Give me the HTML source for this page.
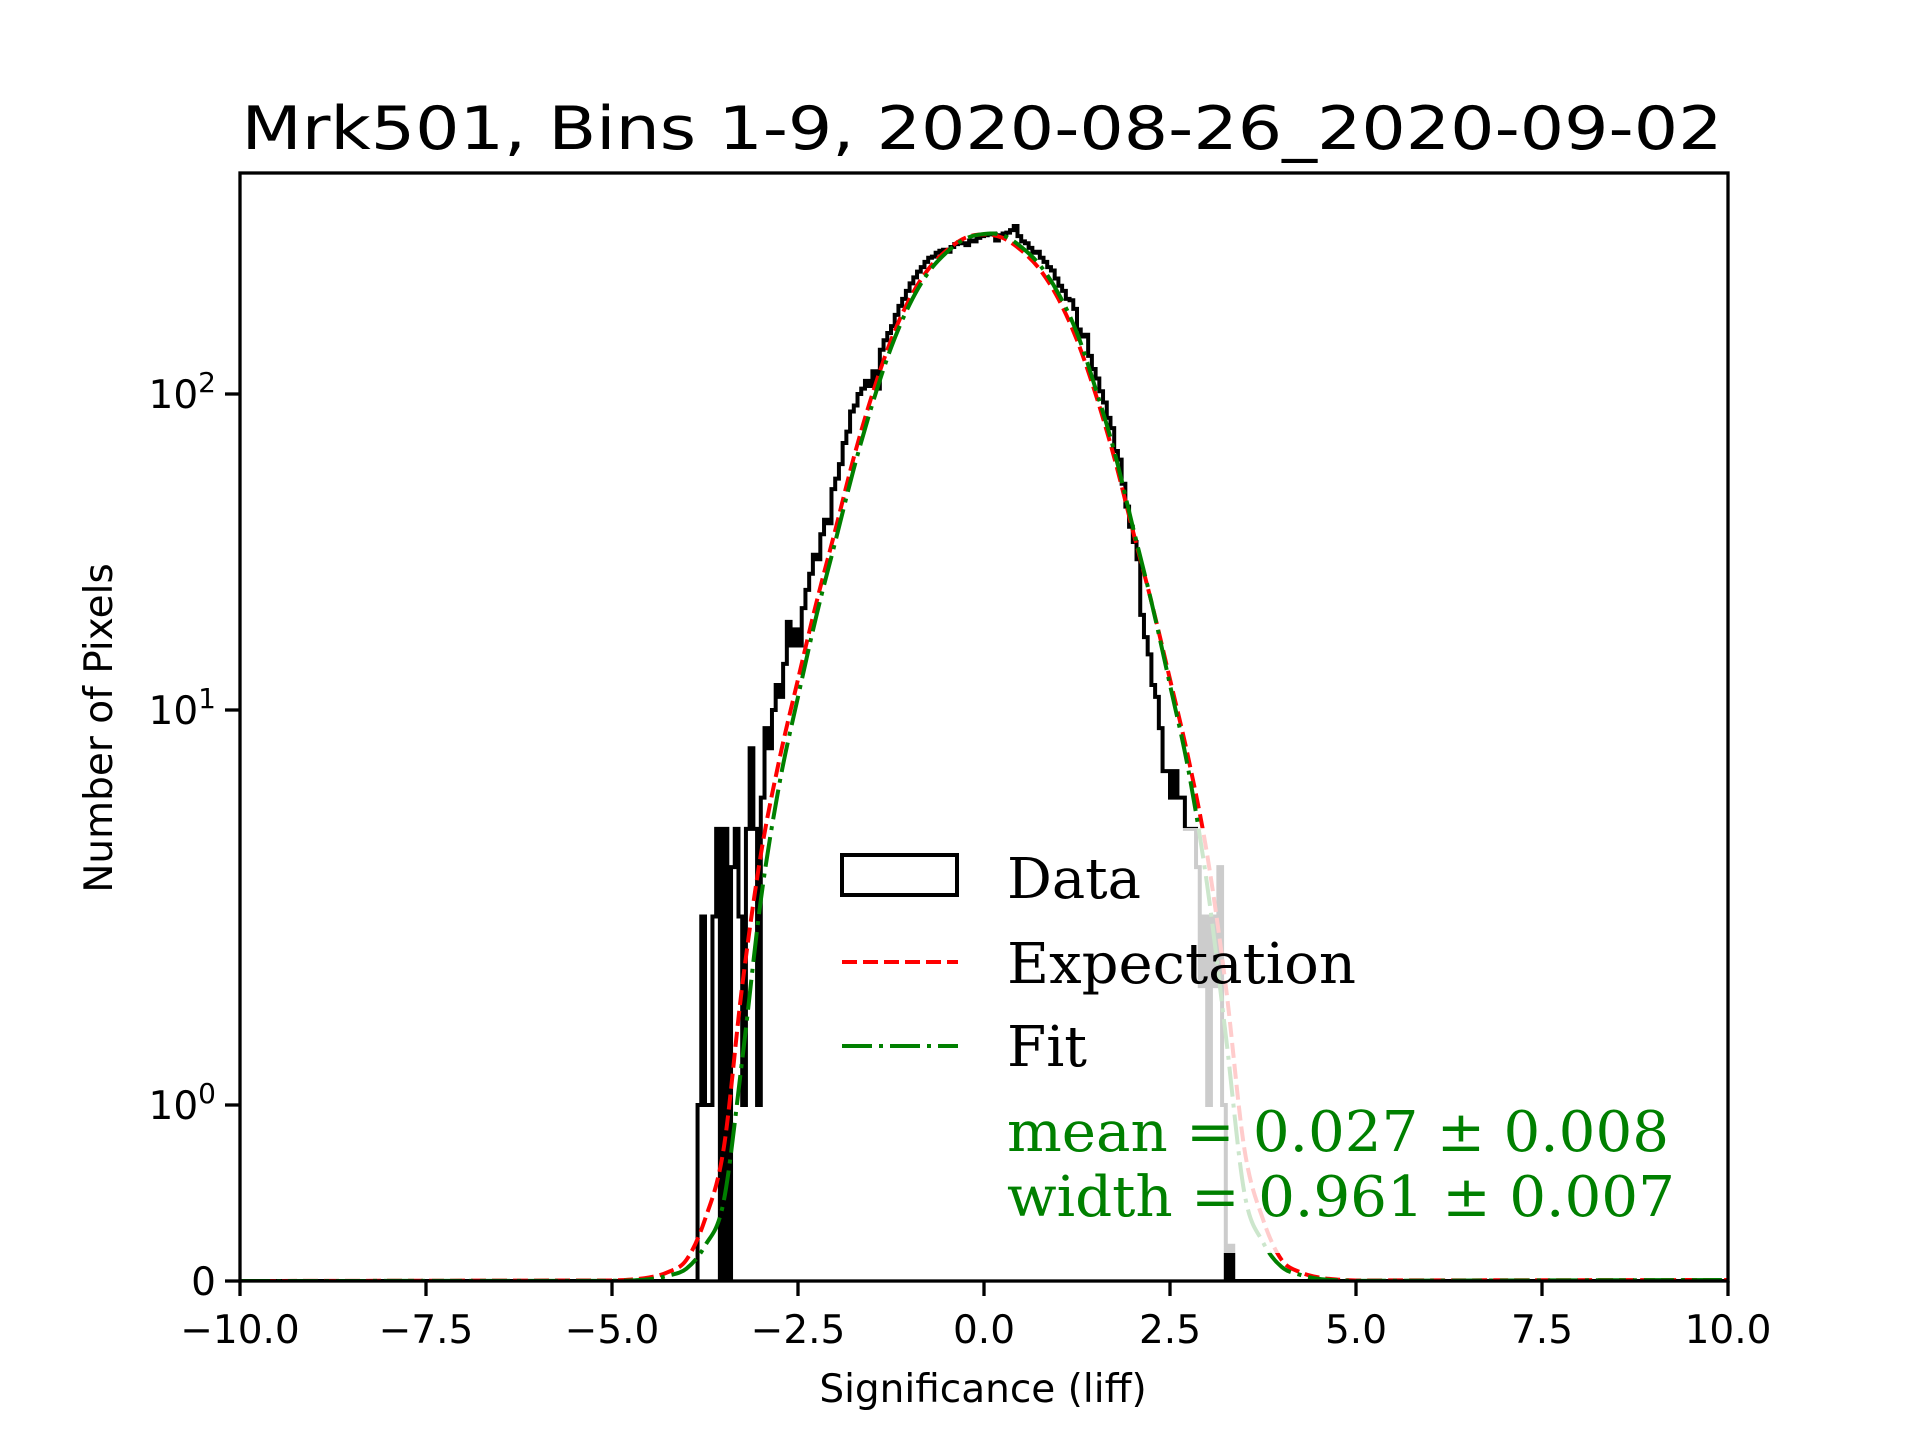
<!DOCTYPE html>
<html><head><meta charset="utf-8"><style>
html,body{margin:0;padding:0;background:#fff}
svg{display:block}
text{font-family:"DejaVu Sans","Liberation Sans",sans-serif}
.serif{font-family:"DejaVu Serif","Liberation Serif",serif}
</style></head><body>
<svg id="chart" width="1920" height="1440" viewBox="0 0 1920 1440">
<rect width="1920" height="1440" fill="#fff"/>
<text x="982" y="149" font-size="60" text-anchor="middle" textLength="1481" lengthAdjust="spacingAndGlyphs">Mrk501, Bins 1-9, 2020-08-26_2020-09-02</text>
<g id="plot"></g>
<g id="axes"></g>
<g id="legend"></g>
<text x="983" y="1402" font-size="39" text-anchor="middle">Significance (liff)</text>
<text x="0" y="0" font-size="39" text-anchor="middle" transform="translate(112,728) rotate(-90)">Number of Pixels</text>
</svg>
<script>
// ---- data ----
const binStart = -3.85;
const binWidth = 0.05;
const counts = [1,3,1,1,3,5,0,5,0,4,5,3,1,5,8,5,1,6,9,8,10,12,11,14,19,16,18,16,21,24,27,31,30,36,40,39,50,54,60,70,76,88,92,100,104,110,106,118,104,138,148,156,164,178,190,200,212,224,234,244,252,262,270,272,280,284,286,282,292,298,302,300,296,306,304,312,316,318,320,322,306,318,322,324,330,340,316,304,300,290,280,282,270,262,252,246,232,220,212,200,198,186,160,152,154,132,120,112,102,94,84,78,66,62,52,44,38,34,30,20,17,15,12,11,9,7,7,6,7,6,6,5,5,5,4,2,3,1,3,2,4,1,0,0.2];
const curveX = [-5,-4.75,-4.5,-4.25,-4,-3.75,-3.5,-3.25,-3,-2.75,-2.5,-2.25,-2,-1.75,-1.5,-1.25,-1,-0.75,-0.5,-0.25,0,0.25,0.5,0.75,1,1.25,1.5,1.75,2,2.25,2.5,2.75,3,3.25,3.5,3.75,4,4.25,4.5,4.75,5];
const expectationVals = [0.003,0.008,0.02,0.05,0.12,0.35,0.75,2.0,4.3,7.5,12.5,22,37,63,100,148,200,248,285,312,320,312,285,248,200,148,100,63,37,22,12.5,7.5,4.3,2.0,0.75,0.35,0.12,0.05,0.02,0.008,0.003];
const fitVals = [0.001,0.003,0.01,0.03,0.07,0.2,0.45,1.3,3.3,6.5,11,20,34,58,93,140,192,242,281,310,321,318,292,256,208,156,104,66,38,22,12,7,3.6,1.5,0.5,0.22,0.08,0.035,0.012,0.004,0.001];
const xTicks = [-10,-7.5,-5,-2.5,0,2.5,5,7.5,10];
const xTickLabels = ["\u221210.0","\u22127.5","\u22125.0","\u22122.5","0.0","2.5","5.0","7.5","10.0"];
const yTicks = [0,1,10,100];
const yTickExp = ["", "0", "1", "2"];

// ---- scales ----
const L=240,R=1728,T=173,B=1281;
function xS(x){return L+(x+10)/20*(R-L);}
function yS(v){
  if(v<=0) return B;
  if(v<=1) return B-176*v;
  const lg=Math.log10(v);
  if(lg<=1) return 1105-395*lg;
  return 710-316*(lg-1);
}
const NS="http://www.w3.org/2000/svg";
function mk(tag,attrs,parent){const e=document.createElementNS(NS,tag);for(const k in attrs)e.setAttribute(k,attrs[k]);parent.appendChild(e);return e;}
const plot=document.getElementById('plot'),axes=document.getElementById('axes'),legend=document.getElementById('legend');

const defs=mk('defs',{},plot);
const cp=mk('clipPath',{id:'clip'},defs);
mk('rect',{x:L,y:T,width:R-L,height:B-T},cp);
const g=mk('g',{'clip-path':'url(#clip)'},plot);

let d=`M${xS(-10)},${B} L${xS(binStart)},${B}`;
counts.forEach((c,i)=>{
  const x0=xS(binStart+i*binWidth),x1=xS(binStart+(i+1)*binWidth),y=yS(c);
  d+=` L${x0},${y} L${x1},${y}`;
});
d+=` L${xS(binStart+counts.length*binWidth)},${B} L${xS(10)},${B}`;
const hist=mk('path',{d:d,fill:'none',stroke:'#000','stroke-width':4,'stroke-linejoin':'miter'},g);



function smoothPath(xs,vs){
  const p=xs.map((x,i)=>[xS(x),yS(vs[i])]);
  let s=`M${xS(-10)},${B} L${p[0][0]},${p[0][1]}`;
  for(let i=0;i<p.length-1;i++){
    const p0=p[Math.max(0,i-1)],p1=p[i],p2=p[i+1],p3=p[Math.min(p.length-1,i+2)];
    const c1=[p1[0]+(p2[0]-p0[0])/6,p1[1]+(p2[1]-p0[1])/6];
    const c2=[p2[0]-(p3[0]-p1[0])/6,p2[1]-(p3[1]-p1[1])/6];
    s+=` C${c1[0]},${c1[1]} ${c2[0]},${c2[1]} ${p2[0]},${p2[1]}`;
  }
  s+=` L${xS(10)},${B-1}`;
  return s;
}
const expLine=mk('path',{d:smoothPath(curveX,expectationVals),fill:'none',stroke:'#ff0000','stroke-width':4,'stroke-dasharray':'15 6'},g);


const fitLine=mk('path',{d:smoothPath(curveX,fitVals),fill:'none',stroke:'#008000','stroke-width':4,'stroke-dasharray':'30 7 4 7'},g);



const frame=mk('rect',{x:L,y:T,width:R-L,height:B-T,fill:'none',stroke:'#000','stroke-width':3.3},axes);


xTicks.forEach((t,i)=>{
  const x=xS(t);
  const tk=mk('line',{x1:x,y1:B,x2:x,y2:B+15,stroke:'#000','stroke-width':3.3},axes);
  
  
  const lb=mk('text',{x:x,y:1343,'font-size':39,'text-anchor':'middle'},axes);
  lb.textContent=xTickLabels[i];
  
  
});
yTicks.forEach((t,i)=>{
  const y=yS(t);
  const tk=mk('line',{x1:L,y1:y,x2:L-15,y2:y,stroke:'#000','stroke-width':3.3},axes);
  
  
  const lb=mk('text',{x:216,y:y+14,'font-size':39,'text-anchor':'end'},axes);
  
  
  if(yTickExp[i]===""){lb.textContent="0";}
  else{
    const a=mk('tspan',{},lb);a.textContent="10";
    const b=mk('tspan',{dy:-16,'font-size':28},lb);b.textContent=yTickExp[i];
  }
});

const lbg=mk('rect',{x:826,y:828,width:864,height:425,fill:'#fff','fill-opacity':0.8},legend);


const h1=mk('rect',{x:842,y:855,width:115,height:40,fill:'none',stroke:'#000','stroke-width':4},legend);


const h2=mk('line',{x1:842,y1:962,x2:958,y2:962,stroke:'#ff0000','stroke-width':4,'stroke-dasharray':'15 6'},legend);


const h3=mk('line',{x1:842,y1:1046,x2:958,y2:1046,stroke:'#008000','stroke-width':4,'stroke-dasharray':'30 7 4 7'},legend);


const items=[["Data",898,134,'#000','legend-data-label'],["Expectation",983,349,'#000','legend-expectation-label'],["Fit",1066,80,'#000','legend-fit-label'],["mean = 0.027 \u00b1 0.008",1151,662,'#008000','fit-mean-text'],["width = 0.961 \u00b1 0.007",1216,668,'#008000','fit-width-text']];
items.forEach(it=>{
  const t=mk('text',{x:1007,y:it[1],'font-size':56,fill:it[3],class:'serif',textLength:it[2],lengthAdjust:'spacingAndGlyphs'},legend);
  t.textContent=it[0];
  
  
});
</script>
</body></html>
